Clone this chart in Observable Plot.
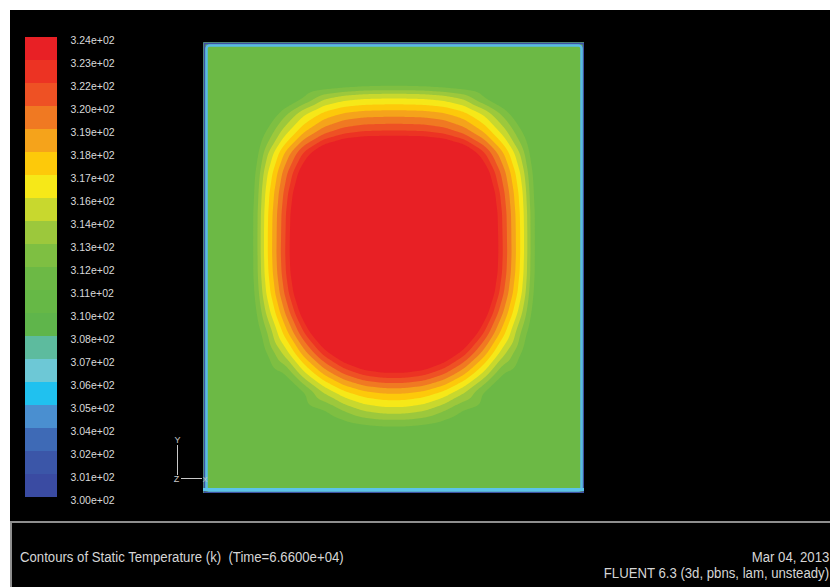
<!DOCTYPE html>
<html>
<head>
<meta charset="utf-8">
<script src="https://cdn.jsdelivr.net/npm/d3@7"></script>
<script src="https://cdn.jsdelivr.net/npm/@observablehq/plot@0.6"></script>
<style>
  html, body { margin: 0; padding: 0; background: #fff; width: 830px; height: 587px; overflow: hidden; }
  #stage { position: relative; width: 830px; height: 587px; overflow: hidden; background: #fff; }
  #toppanel { position: absolute; left: 10px; top: 10px; width: 820px; height: 511px; background: #000; }
  #botpanel { position: absolute; left: 10px; top: 521px; width: 830px; height: 80px; background: #000;
              border-top: 2px solid #8e8e8e; border-left: 2px solid #8e8e8e; }
  .cap { position: absolute; white-space: pre; font-family: "Liberation Sans", Arial, sans-serif;
         font-size: 15.5px; line-height: 17px; color: #d6d6d6; }
  .capL { transform: scaleX(0.85); transform-origin: left center; }
  .capR { transform: scaleX(0.85); transform-origin: right center; text-align: right; }
  #legend, #field, #triad { position: absolute; }
  #legend { left: 0; top: 0; }
  #field { left: 203px; top: 42px; }
  #triad { left: 160px; top: 430px; }
</style>
</head>
<body>
<div id="stage">
  <div id="toppanel"></div>
  <div id="botpanel"></div>
  <div id="legend"></div>
  <div id="field"></div>
  <svg id="triad" width="60" height="60" viewBox="0 0 60 60">
    <g stroke="#c9c9c9" stroke-width="1" fill="none">
      <line x1="17.5" y1="15" x2="17.5" y2="45"/>
      <line x1="21" y1="48.5" x2="42" y2="48.5"/>
    </g>
    <g fill="#c9c9c9" font-family="Liberation Sans, Arial, sans-serif" font-size="9" text-anchor="middle">
      <text x="17.5" y="13">Y</text>
      <text x="16.5" y="52">Z</text>
      <text x="45" y="52" font-size="7">X</text>
    </g>
  </svg>
  <div class="cap capL" style="left:20px; top:548px;">Contours of Static Temperature (k)  (Time=6.6600e+04)</div>
  <div class="cap capR" style="right:1px; top:548px;">Mar 04, 2013</div>
  <div class="cap capR" style="right:1px; top:564px;">FLUENT 6.3 (3d, pbns, lam, unsteady)</div>
</div>
<script>
// Temperature levels (K): band boundaries of the colour map
const bandEdges = [300, 301.2, 302.4, 303.6, 304.8, 306, 307.2, 308.4, 309.6, 310.8, 312,
                   313.2, 314.4, 315.6, 316.8, 318, 319.2, 320.4, 321.6, 322.8, 324];
// Colours of the 20 bands, lowest to highest
const bandColors = ["#3a4ba2", "#3b56a8", "#3e6ab6", "#4a8fd0", "#20c1ef", "#6dc8d6", "#5dbb9e",
                    "#5fb54b", "#66b846", "#6cb945", "#7ebf42", "#9cc83c", "#c8d82e", "#f6e818",
                    "#fdc90a", "#f5a31b", "#f07922", "#ee5124", "#ec3323", "#e82025"];
// Legend tick labels, lowest to highest
const tickLabels = ["3.00e+02", "3.01e+02", "3.02e+02", "3.04e+02", "3.05e+02", "3.06e+02", "3.07e+02",
                    "3.08e+02", "3.10e+02", "3.11e+02", "3.12e+02", "3.13e+02", "3.14e+02", "3.16e+02",
                    "3.17e+02", "3.18e+02", "3.19e+02", "3.20e+02", "3.22e+02", "3.23e+02", "3.24e+02"];
// Sample grid (cm) of the cavity, and temperatures (K) read at those points, bottom row first
const gridX = [0, 2, 4, 6, 8, 10, 12, 14, 16, 18, 20, 22, 24, 26, 28, 30, 32, 34, 36, 38];
const gridY = [0, 2, 4, 6, 8, 10, 12, 14, 16, 18, 20, 22, 24, 26, 28, 30, 32, 34, 36, 38, 40, 42, 44, 45];
const tempRows = [
  [311.5,311.5,311.5,311.5,311.5,311.5,311.5,311.5,311.5,311.5,311.5,311.5,311.5,311.5,311.5,311.5,311.5,311.5,311.5,311.5],
  [311.5,311.5,311.5,311.5,311.5,311.5,311.5,311.5,311.5,311.5,311.5,311.5,311.5,311.5,311.5,311.5,311.5,311.5,311.5,311.5],
  [311.5,311.5,311.5,311.5,311.5,311.5,311.5,311.5,311.5,311.5,311.5,311.5,311.5,311.5,311.5,311.5,311.5,311.5,311.5,311.5],
  [311.5,311.5,311.5,311.5,311.5,311.5,311.5,311.5,311.5,311.5,311.5,311.5,311.5,311.5,311.5,311.5,311.5,311.5,311.5,311.5],
  [311.5,311.5,311.5,311.5,311.5,311.5,311.5,312.8,314.0,314.5,314.5,314.0,312.8,311.5,311.5,311.5,311.5,311.5,311.5,311.5],
  [311.5,311.5,311.5,311.5,311.5,311.6,314.3,316.3,317.5,318.0,318.0,317.5,316.3,314.3,311.6,311.5,311.5,311.5,311.5,311.5],
  [311.5,311.5,311.5,311.5,311.7,315.3,318.3,320.6,322.1,322.7,322.7,322.1,320.6,318.3,315.3,311.7,311.5,311.5,311.5,311.5],
  [311.5,311.5,311.5,311.5,314.6,318.6,322.1,324.8,326.7,327.5,327.5,326.7,324.8,322.1,318.6,314.6,311.5,311.5,311.5,311.5],
  [311.5,311.5,311.5,312.3,317.0,321.5,325.5,328.8,331.1,332.2,332.2,331.1,328.8,325.5,321.5,317.0,312.3,311.5,311.5,311.5],
  [311.5,311.5,311.5,313.9,318.9,323.8,328.4,332.4,335.4,336.9,336.9,335.4,332.4,328.4,323.8,318.9,313.9,311.5,311.5,311.5],
  [311.5,311.5,311.5,315.0,320.3,325.5,330.5,335.2,339.2,341.5,341.5,339.2,335.2,330.5,325.5,320.3,315.0,311.5,311.5,311.5],
  [311.5,311.5,311.5,315.5,321.0,326.4,331.8,337.0,342.1,345.9,345.9,342.1,337.0,331.8,326.4,321.0,315.5,311.5,311.5,311.5],
  [311.5,311.5,311.5,315.7,321.2,326.6,332.1,337.5,343.0,348.5,348.5,343.0,337.5,332.1,326.6,321.2,315.7,311.5,311.5,311.5],
  [311.5,311.5,311.5,315.7,321.1,326.6,332.0,337.4,342.7,346.5,346.5,342.7,337.4,332.0,326.6,321.1,315.7,311.5,311.5,311.5],
  [311.5,311.5,311.5,315.6,321.0,326.4,331.6,336.6,340.4,341.7,341.7,340.4,336.6,331.6,326.4,321.0,315.6,311.5,311.5,311.5],
  [311.5,311.5,311.5,315.3,320.5,325.6,330.4,334.2,336.4,337.0,337.0,336.4,334.2,330.4,325.6,320.5,315.3,311.5,311.5,311.5],
  [311.5,311.5,311.5,314.6,319.6,324.1,328.0,330.7,332.0,332.3,332.3,332.0,330.7,328.0,324.1,319.6,314.6,311.5,311.5,311.5],
  [311.5,311.5,311.5,313.4,317.9,321.8,324.8,326.6,327.4,327.5,327.5,327.4,326.6,324.8,321.8,317.9,313.4,311.5,311.5,311.5],
  [311.5,311.5,311.5,311.6,315.0,318.0,320.1,321.3,321.8,321.9,321.9,321.8,321.3,320.1,318.0,315.0,311.6,311.5,311.5,311.5],
  [311.5,311.5,311.5,311.5,312.6,315.2,317.0,318.0,318.4,318.5,318.5,318.4,318.0,317.0,315.2,312.6,311.5,311.5,311.5,311.5],
  [311.5,311.5,311.5,311.5,311.5,311.9,313.1,313.9,314.3,314.4,314.4,314.3,313.9,313.1,311.9,311.5,311.5,311.5,311.5,311.5],
  [311.5,311.5,311.5,311.5,311.5,311.5,311.5,311.5,311.5,311.5,311.5,311.5,311.5,311.5,311.5,311.5,311.5,311.5,311.5,311.5],
  [311.5,311.5,311.5,311.5,311.5,311.5,311.5,311.5,311.5,311.5,311.5,311.5,311.5,311.5,311.5,311.5,311.5,311.5,311.5,311.5],
  [311.5,311.5,311.5,311.5,311.5,311.5,311.5,311.5,311.5,311.5,311.5,311.5,311.5,311.5,311.5,311.5,311.5,311.5,311.5,311.5]
];
// Extra samples (cm) on the outer edge of the warm region, where the bulk temperature is reached
const ringX = [5.9, 5.5, 5.2, 5.1, 5.0, 5.0, 5.0, 5.0, 5.1, 5.3, 5.6, 6.1, 6.9, 6.9,
               8, 10, 12, 14, 16, 18, 10, 12, 14, 16, 18,
               32.1, 32.5, 32.8, 32.9, 33.0, 33.0, 33.0, 33.0, 32.9, 32.7, 32.4, 31.9, 31.1, 31.1,
               30, 28, 26, 24, 22, 20, 28, 26, 24, 22, 20];
const ringY = [36, 34, 32, 30, 28, 26, 24, 22, 20, 18, 16, 14, 12, 37.5,
               38.5, 39.6, 40.2, 40.4, 40.55, 40.6, 8.6, 7.55, 6.95, 6.65, 6.5,
               36, 34, 32, 30, 28, 26, 24, 22, 20, 18, 16, 14, 12, 37.5,
               38.5, 39.6, 40.2, 40.4, 40.55, 40.6, 8.6, 7.55, 6.95, 6.65, 6.5];
const ringTemp = 311.5;

const colorOpts = {type: "threshold", domain: bandEdges.slice(1, -1), range: bandColors};
const fontFamily = "Liberation Sans, Arial, sans-serif";

// ---- legend ----
const bands = bandColors.map((c, i) => ({lo: bandEdges[i], hi: bandEdges[i + 1]}));
const ticks = bandEdges.map((v, i) => ({v, label: tickLabels[i]}));
const legend = Plot.plot({
  width: 140, height: 520,
  marginTop: 37, marginBottom: 23, marginLeft: 25, marginRight: 83,
  x: {domain: [0, 1], axis: null},
  y: {domain: [300, 324], axis: null},
  color: colorOpts,
  style: {background: "transparent", color: "#dadada", fontFamily},
  marks: [
    Plot.rect(bands, {x1: 0, x2: 1, y1: "lo", y2: "hi", fill: d => (d.lo + d.hi) / 2, shapeRendering: "crispEdges"}),
    Plot.text(ticks, {x: 1, y: "v", text: "label", dx: 13, dy: 3, textAnchor: "start", fill: "#dadada", fontSize: 10.5})
  ]
});
document.getElementById("legend").appendChild(legend);

// ---- temperature field ----
const samples = gridY.flatMap((y, j) => gridX.map((x, i) => ({x, y, t: tempRows[j][i]})))
  .concat(ringX.map((x, i) => ({x, y: ringY[i], t: ringTemp})));
const field = Plot.plot({
  width: 381, height: 451, margin: 0,
  x: {domain: [0, 38], axis: null},
  y: {domain: [0, 45], axis: null},
  color: colorOpts,
  style: {background: "transparent", fontFamily},
  marks: [
    Plot.contour(samples, {x: "x", y: "y", fill: "t", interpolate: "barycentric",
                           thresholds: bandEdges.slice(0, -1), pixelSize: 1, blur: 3}),
    Plot.frame({stroke: "#3c50a4", strokeWidth: 2, inset: 1}),
    Plot.frame({stroke: "#58b9e8", strokeWidth: 2.5, inset: 3, rx: 3}),
    Plot.ruleY([0], {stroke: "#5cc3ea", strokeWidth: 3, dy: -4})
  ]
});
document.getElementById("field").appendChild(field);
</script>
</body>
</html>
